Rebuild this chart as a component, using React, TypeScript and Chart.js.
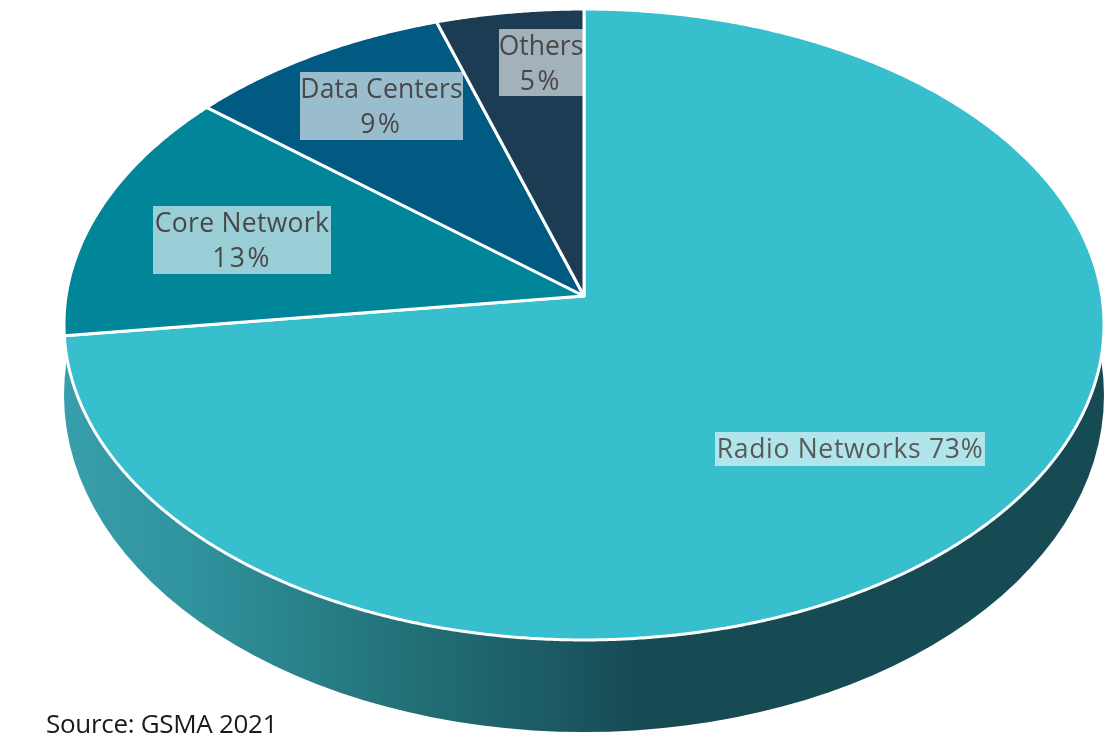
import React, { useEffect, useRef } from "react";
import { Chart, registerables } from "chart.js";

Chart.register(...registerables);

const categories = ["Radio Networks", "Core Network", "Data Centers", "Others"];
const shares = [73, 13, 9, 5];
const sliceColors = ["#38BFCE", "#008599", "#005A82", "#1B3C53"];
const sourceNote = "Source: GSMA 2021";

const WIDTH = 1117;
const HEIGHT = 741;
const FONT = '"Open Sans", sans-serif';

// Pie plane seen in perspective: unit-circle points map through a projective
// transform, so the apex sits above the centre of the drawn ellipse.
const apex = { x: 584, y: 296 };
const tilt = { a: 517.9, b: 312.9, k: -0.0903 };
// Lower rim of the extruded side wall.
const rim = { x: 584, y: 395, rx: 520, ry: 337 };
const wallStops: [number, string][] = [
  [0, "#379FAB"],
  [0.13, "#2F929D"],
  [0.32, "#237279"],
  [0.47, "#1B5A64"],
  [0.55, "#174B54"],
  [1, "#174B54"],
];

// Label boxes: left, top, width, height, ink colour and per-line tracking.
const labelBoxes = [
  { x: 715, y: 432, w: 270, h: 34, ink: "#595959", track: [0.7], inline: true },
  { x: 153, y: 206, w: 178, h: 68, ink: "#484848", track: [0.3, 2.5], inline: false },
  { x: 300, y: 72, w: 163, h: 68, ink: "#484848", track: [0.15, 2.8], inline: false },
  { x: 499, y: 29, w: 84, h: 67, ink: "#484848", track: [0, 2.8], inline: false },
];

function project(angle: number) {
  const u = Math.cos(angle);
  const v = Math.sin(angle);
  const d = 1 + tilt.k * v;
  return { x: apex.x + (tilt.a * u) / d, y: apex.y + (tilt.b * v) / d };
}

const tiltedPie = {
  id: "tiltedPie",
  beforeDatasetsDraw(chart: any) {
    const ctx: CanvasRenderingContext2D = chart.ctx;
    const arcs = chart.getDatasetMeta(0).data;

    // Side wall, shaded from left to right.
    const wall = ctx.createLinearGradient(rim.x - rim.rx, 0, rim.x + rim.rx, 0);
    wallStops.forEach(([at, color]) => wall.addColorStop(at, color));
    ctx.save();
    ctx.beginPath();
    ctx.ellipse(rim.x, rim.y, rim.rx, rim.ry, 0, 0, Math.PI * 2);
    ctx.fillStyle = wall;
    ctx.fill();
    ctx.restore();

    // Top face: each slice follows the angles Chart.js computed for its arc.
    arcs.forEach((arc: any) => {
      const { startAngle, endAngle } = arc.getProps(["startAngle", "endAngle"]);
      const steps = Math.max(2, Math.ceil((endAngle - startAngle) / 0.005));
      ctx.save();
      ctx.beginPath();
      ctx.moveTo(apex.x, apex.y);
      for (let i = 0; i <= steps; i++) {
        const p = project(startAngle + ((endAngle - startAngle) * i) / steps);
        ctx.lineTo(p.x, p.y);
      }
      ctx.closePath();
      ctx.fillStyle = arc.options.backgroundColor;
      ctx.fill();
      ctx.lineJoin = "round";
      ctx.lineWidth = arc.options.borderWidth;
      ctx.strokeStyle = arc.options.borderColor;
      ctx.stroke();
      ctx.restore();
    });
    return false;
  },
  afterDraw(chart: any) {
    const ctx: CanvasRenderingContext2D = chart.ctx;
    const values: number[] = chart.data.datasets[0].data;
    ctx.save();
    ctx.textBaseline = "alphabetic";
    ctx.font = `26.5px ${FONT}`;
    labelBoxes.forEach((box, i) => {
      ctx.fillStyle = "rgba(255,255,255,0.6)";
      ctx.fillRect(box.x, box.y, box.w, box.h);
      ctx.fillStyle = box.ink;
      ctx.textAlign = "center";
      const name = chart.data.labels[i];
      const value = `${values[i]}%`;
      const lines = box.inline ? [`${name} ${value}`] : [name, value];
      lines.forEach((line: string, j: number) => {
        (ctx as any).letterSpacing = `${box.track[j]}px`;
        ctx.fillText(line, box.x + box.w / 2, box.y + 26 + j * 34.5);
      });
    });
    ctx.font = `26px ${FONT}`;
    (ctx as any).letterSpacing = "-0.3px";
    ctx.fillStyle = "#1A1A1A";
    ctx.textAlign = "left";
    ctx.fillText(sourceNote, 46, 732.5);
    ctx.restore();
  },
};

export default function App() {
  const canvasRef = useRef<HTMLCanvasElement>(null);

  useEffect(() => {
    document.body.style.margin = "0";
    document.body.style.background = "#fff";
    const chart = new Chart(canvasRef.current!, {
      type: "pie",
      data: {
        labels: categories,
        datasets: [
          {
            data: shares,
            backgroundColor: sliceColors,
            borderColor: "#FFFFFF",
            borderWidth: 3,
          },
        ],
      },
      options: {
        responsive: false,
        animation: false,
        plugins: { legend: { display: false }, tooltip: { enabled: false } },
      },
      plugins: [tiltedPie],
    });
    return () => chart.destroy();
  }, []);

  return <canvas ref={canvasRef} width={WIDTH} height={HEIGHT} style={{ display: "block" }} />;
}
